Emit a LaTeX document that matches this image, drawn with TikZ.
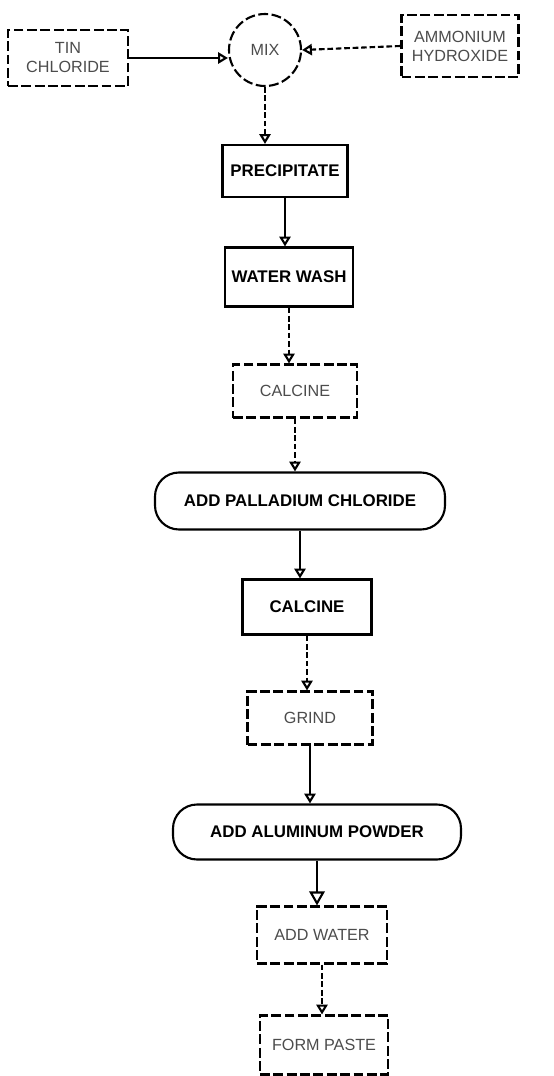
\documentclass[tikz,border=0pt]{standalone}
\usepackage{fontspec}
\setmainfont{Liberation Sans}
\usetikzlibrary{arrows.meta}
\tikzstyle{stage}=[rectangle,draw,line width=1.5pt,inner sep=0pt,align=center,
  font=\fontsize{12}{14}\selectfont\bfseries]
\tikzstyle{faint stage}=[stage,dash pattern=on 7pt off 2.5pt,text=black!70,
  font=\fontsize{11.5}{13.5}\selectfont]
\tikzstyle{round stage}=[stage,rounded corners=0.6cm]
\tikzstyle{flow}=[line width=1.5pt,-{Triangle[open,length=7pt,width=8pt]}]
\tikzstyle{faint flow}=[flow,dash pattern=on 4pt off 2pt]

\begin{document}
\begin{tikzpicture}[x=0.025cm,y=-0.025cm]
  \def\px{0.025cm}
  \useasboundingbox (0,0) rectangle (553,1076);

  % feed and mixing
  \node[faint stage,minimum width=120*\px,minimum height=56*\px] (tin chloride)
    at (68,58) {TIN\\CHLORIDE};
  \node[faint stage,circle,minimum size=72*\px] (mix) at (265,50) {MIX};
  \node[faint stage,minimum width=117*\px,minimum height=62*\px] (ammonium)
    at (460,46) {AMMONIUM\\HYDROXIDE};

  % process column
  \node[stage,minimum width=125*\px,minimum height=52*\px] (precipitate)
    at (285,171) {PRECIPITATE};
  \node[stage,minimum width=128*\px,minimum height=59*\px] (water wash)
    at (289,277) {WATER WASH};
  \node[faint stage,minimum width=124*\px,minimum height=53*\px] (calcine 1)
    at (295,391) {CALCINE};
  \node[round stage,minimum width=290*\px,minimum height=57*\px] (palladium)
    at (300,501) {ADD PALLADIUM CHLORIDE};
  \node[stage,minimum width=129*\px,minimum height=55*\px] (calcine 2)
    at (307,607) {CALCINE};
  \node[faint stage,minimum width=125*\px,minimum height=53*\px] (grind)
    at (310,718) {GRIND};
  \node[round stage,minimum width=288*\px,minimum height=55*\px] (aluminum)
    at (317,832) {ADD ALUMINUM POWDER};
  \node[faint stage,minimum width=130*\px,minimum height=57*\px] (add water)
    at (322,935) {ADD WATER};
  \node[faint stage,minimum width=128*\px,minimum height=59*\px] (form paste)
    at (324,1045) {FORM PASTE};

  \draw[flow] (tin chloride.east) -- (tin chloride.east -| mix.west);
  \draw[faint flow] (ammonium.west) -- (mix.east);
  \draw[faint flow] (mix.south) -- (mix.south |- precipitate.north);
  \draw[flow] (precipitate.south) -- (precipitate.south |- water wash.north);
  \draw[faint flow] (water wash.south) -- (water wash.south |- calcine 1.north);
  \draw[faint flow] (calcine 1.south) -- (calcine 1.south |- palladium.north);
  \draw[flow] (palladium.south) -- (palladium.south |- calcine 2.north);
  \draw[faint flow] (calcine 2.south) -- (calcine 2.south |- grind.north);
  \draw[flow] (grind.south) -- (grind.south |- aluminum.north);
  \draw[flow,-{Triangle[open,length=10pt,width=11pt]}] (aluminum.south)
    -- (aluminum.south |- add water.north);
  \draw[faint flow] (add water.south) -- (add water.south |- form paste.north);
\end{tikzpicture}
\end{document}
